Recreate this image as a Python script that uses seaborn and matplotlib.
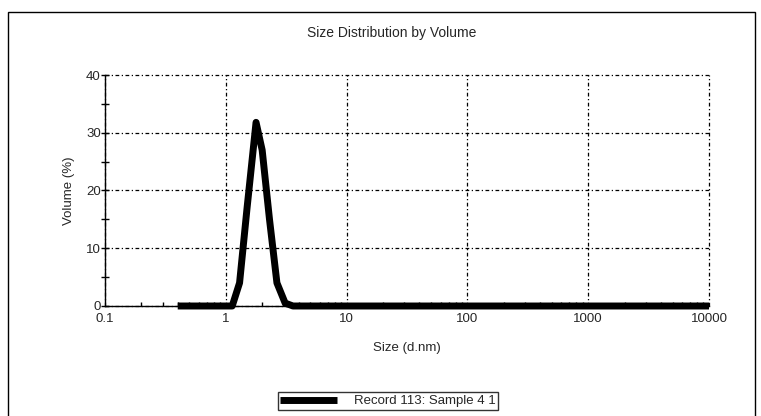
import numpy as np
import pandas as pd
import matplotlib
matplotlib.use('Agg')
import matplotlib.pyplot as plt
import seaborn as sns
from matplotlib.patches import Rectangle
from matplotlib.ticker import FixedLocator, FixedFormatter, LogLocator, NullFormatter

# valores
tamanho_nm = [0.4, 1.0, 1.13, 1.3, 1.5, 1.78, 2.0, 2.3, 2.65, 3.1, 3.6, 10000]
volume_pct = [0, 0, 0, 4, 17, 31.8, 27, 15, 4, 0.5, 0, 0]
serie = 'Record 113: Sample 4 1'

xticks = [0.1, 1, 10, 100, 1000, 10000]
xtick_labels = ['0.1', '1', '10', '100', '1000', '10000']
yticks = [0, 10, 20, 30, 40]

dados = pd.DataFrame({'size': tamanho_nm, 'volume': volume_pct, 'record': serie})

sns.set_theme(style="white")
plt.rcParams['font.family'] = ['Liberation Sans', 'DejaVu Sans']
fs = 9.5

fig = plt.figure(figsize=(7.61, 4.16), dpi=100)
ax = fig.add_axes([105/761, 1 - 306/416, (709 - 105)/761, (306 - 75)/416])

sns.lineplot(data=dados, x='size', y='volume', hue='record', palette=['black'],
             linewidth=5, ax=ax, legend=True, clip_on=False,
             solid_capstyle='butt', solid_joinstyle='round', zorder=5)

ax.set_xscale('log')
ax.set_xlim(0.1, 10000)
ax.set_ylim(0, 40)

ax.xaxis.set_major_locator(FixedLocator(xticks))
ax.xaxis.set_major_formatter(FixedFormatter(xtick_labels))
ax.xaxis.set_minor_locator(LogLocator(base=10, subs=np.arange(2, 10)))
ax.xaxis.set_minor_formatter(NullFormatter())
ax.set_yticks(yticks)
ax.set_yticks([5, 15, 25, 35], minor=True)

ax.tick_params(axis='x', which='major', direction='in', length=0, labelsize=fs, pad=5)
ax.tick_params(axis='x', which='minor', direction='in', length=2.6, width=1, color='black', bottom=True)
ax.tick_params(axis='y', which='both', direction='inout', length=6, width=1, color='black',
               left=True, labelsize=fs, pad=0)

ax.grid(True, which='major', color='black', linestyle=(0, (3, 2, 1, 2)), linewidth=0.9,
        clip_on=False)
for lado in ['top', 'right']:
    ax.spines[lado].set_visible(False)
for lado in ['left', 'bottom']:
    ax.spines[lado].set_color('black')
    ax.spines[lado].set_linewidth(1)

ax.set_xlabel('Size (d.nm)', fontsize=fs, labelpad=12)
ax.set_ylabel('Volume (%)', fontsize=fs, labelpad=8)
fig.text(392/761, 1 - 33/416, 'Size Distribution by Volume', ha='center', va='center', fontsize=10)

leg = ax.legend(loc='center', bbox_to_anchor=((388 - 105)/604, -(401 - 306)/231),
                frameon=True, fancybox=False, edgecolor='black', fontsize=fs,
                handlelength=4.3, borderpad=0.2, handletextpad=1.3)
leg.get_frame().set_linewidth(1)
for linha in leg.get_lines():
    linha.set_linewidth(5)
    linha.set_solid_capstyle('butt')

# moldura externa
fig.patches.append(Rectangle((8/761, -0.05), (755 - 8)/761, (416 - 12)/416 + 0.05,
                             transform=fig.transFigure, fill=False, edgecolor='black', linewidth=1))

fig.savefig('out.png', dpi=100)
